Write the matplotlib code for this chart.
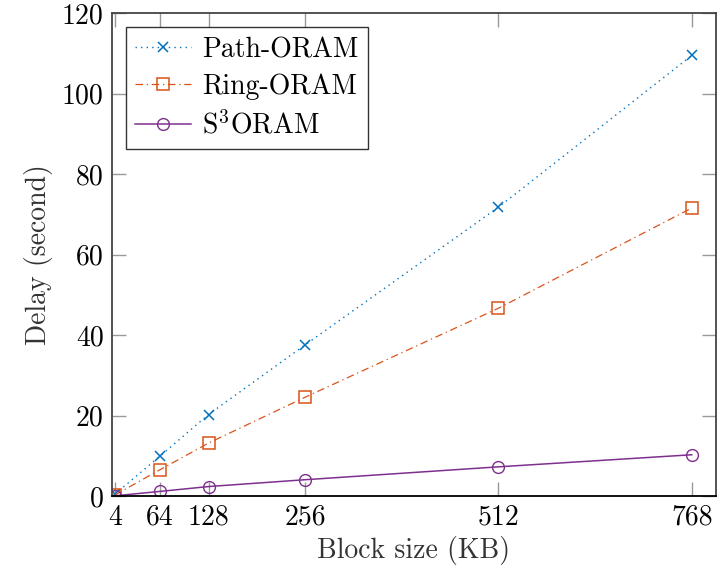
import matplotlib
matplotlib.use("Agg")
import matplotlib.pyplot as plt

plt.rcParams['font.family'] = ['cmr10', 'DejaVu Serif']
plt.rcParams['mathtext.fontset'] = 'cm'
plt.rcParams['axes.formatter.use_mathtext'] = True

block = [4, 64, 128, 256, 512, 768]
path_oram = [0.5, 10.0, 20.3, 37.6, 71.8, 109.5]
ring_oram = [0.3, 6.6, 13.2, 24.6, 46.7, 71.6]
s3_oram = [0.1, 1.2, 2.4, 4.1, 7.3, 10.3]

yticks = [0, 20, 40, 60, 80, 100, 120]

fig = plt.figure(figsize=(7.17, 5.73), dpi=100)
ax = fig.add_axes([0.156, 0.134, 0.8425, 0.843])

ax.plot(block, path_oram, linestyle=':', color='#0072BD', marker='x',
        markersize=6.5, markeredgewidth=1.1, linewidth=1.0,
        dashes=(1, 3), label='Path-ORAM')
ax.plot(block, ring_oram, linestyle='-.', color='#D95319', marker='s',
        markersize=8, markerfacecolor='none', markeredgewidth=1.1,
        linewidth=0.9, dashes=(6, 3, 1, 3), label='Ring-ORAM')
ax.plot(block, s3_oram, linestyle='-', color='#7E2F8E', marker='o',
        markersize=8.5, markerfacecolor='none', markeredgewidth=1.0,
        linewidth=1.1, label=r'S$^3$ORAM')

ax.set_xlim(0, 800)
ax.set_ylim(0, 120)
ax.set_xticks(block)
ax.set_xticklabels([str(b) for b in block])
ax.set_yticks(yticks)
ax.set_yticklabels([str(t) for t in yticks])

ax.tick_params(direction='in', length=10, width=1.0, color='#999999',
               labelsize=20, top=True, right=True, pad=6)
for side in ['left', 'top', 'right']:
    ax.spines[side].set_color('#444444')
    ax.spines[side].set_linewidth(1.3)
ax.spines['bottom'].set_color('black')
ax.spines['bottom'].set_linewidth(1.3)

ax.set_xlabel('Block size (KB)', fontsize=20, labelpad=4, color='#333333')
ax.set_ylabel('Delay (second)', fontsize=20, labelpad=6, color='#333333')

leg = ax.legend(loc='upper left', fontsize=20, frameon=True, fancybox=False,
                edgecolor='black', borderaxespad=0.5, handlelength=2.0,
                handletextpad=0.4, labelspacing=0.38, borderpad=0.35)
leg.get_frame().set_linewidth(1.0)

fig.savefig('out.png', dpi=100)
